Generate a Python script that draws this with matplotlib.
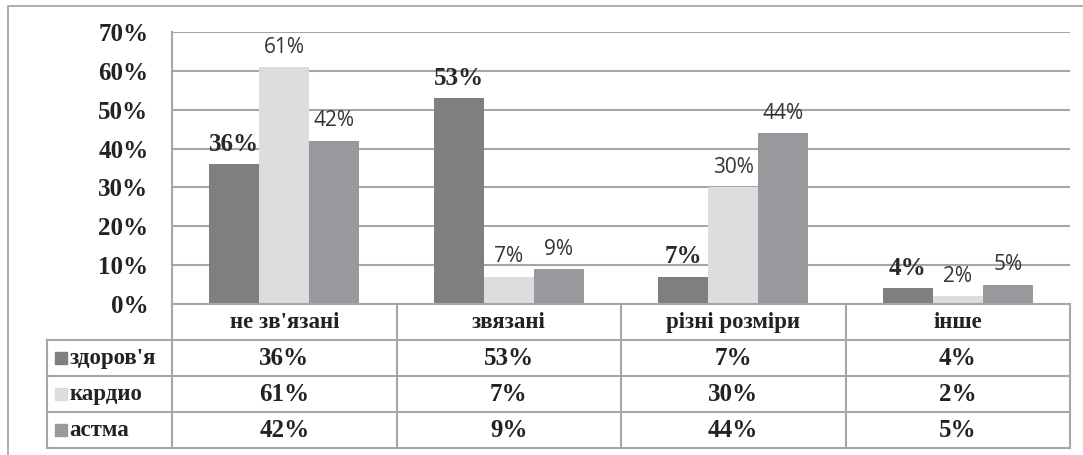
import numpy as np
import matplotlib.pyplot as plt
from matplotlib.patches import Rectangle

categories = ["не зв'язані", "звязані", "різні розміри", "інше"]
series_names = ["здоров'я", "кардио", "астма"]
zdorovya = [36, 53, 7, 4]
kardio = [61, 7, 30, 2]
astma = [42, 9, 44, 5]
yticks = [0, 10, 20, 30, 40, 50, 60, 70]

colors = ["#7f7f82", "#dcdddf", "#98999c"]
grid_c = "#a6a6a6"
serif = "Liberation Serif"
sans = "Open Sans"

W, H = 1083, 455
fig = plt.figure(figsize=(W / 100, H / 100), dpi=100)

def px(x0, y0, x1, y1):
    # pixel box (top-left origin) -> figure fraction rect
    return [x0 / W, 1 - y1 / H, (x1 - x0) / W, (y1 - y0) / H]

# outer frame
fig.patches.append(Rectangle((8 / W, -0.1), 1.2, 1 - 6 / H + 0.1, transform=fig.transFigure,
                             fill=False, edgecolor="#a0a0a0", lw=1.2))

ax = fig.add_axes(px(172, 32, 1070, 304))
x = np.arange(len(categories))
bw = 0.223
all_series = [zdorovya, kardio, astma]
for i, vals in enumerate(all_series):
    pos = x + (i - 1) * bw
    ax.bar(pos, vals, width=bw, color=colors[i], zorder=3)
    for p, v in zip(pos, vals):
        if i == 0:
            ax.text(p, v + 2.2, f"{v}%", ha="center", va="bottom", fontsize=18,
                    fontweight="bold", family=serif, color="#2a2a2a", zorder=4)
        else:
            ax.text(p, v + 2.4, f"{v}%", ha="center", va="bottom", fontsize=15,
                    family=sans, color="#333333", zorder=4)

ax.set_xlim(-0.5, 3.5)
ax.set_ylim(0, 70)
ax.set_yticks(yticks)
ax.set_yticklabels([f"{t}%" for t in yticks], fontsize=18, fontweight="bold",
                   family=serif, color="#222222")
ax.tick_params(axis="y", length=0, pad=17)
ax.set_xticks([])
ax.yaxis.grid(True, color=grid_c, lw=1.5, zorder=0)
for s in ["top", "right", "bottom"]:
    ax.spines[s].set_visible(False)
ax.spines["left"].set_color(grid_c)
ax.spines["left"].set_linewidth(1.5)

# data table below the bars
lab_w = 125 / 224.5
tx = fig.add_axes(px(47, 304, 1070, 448))
tx.set_xlim(-0.5 - lab_w, 3.5)
tx.set_ylim(4, 0)
tx.axis("off")
lk = dict(color=grid_c, lw=1.5, clip_on=False)
tx.plot([-0.5, 3.5], [0, 0], **lk)
for r in range(1, 5):
    tx.plot([-0.5 - lab_w, 3.5], [r, r], **lk)
for c in range(5):
    tx.plot([c - 0.5, c - 0.5], [0, 4], **lk)
tx.plot([-0.5 - lab_w] * 2, [1, 4], **lk)

hfont = dict(fontsize=16.5, fontweight="bold", family=serif, color="#222222")
vfont = dict(fontsize=18, fontweight="bold", family=serif, color="#222222")
for j, cat in enumerate(categories):
    tx.text(j, 0.52, cat, ha="center", va="center", **hfont)
for i, (name, vals) in enumerate(zip(series_names, all_series)):
    r = i + 1.52
    tx.add_patch(Rectangle((-0.5 - lab_w + 0.036, i + 1.33), 0.052, 0.33,
                           color=colors[i], clip_on=False))
    tx.text(-0.5 - lab_w + 0.1, r, name, ha="left", va="center", **hfont)
    for j, v in enumerate(vals):
        tx.text(j, r, f"{v}%", ha="center", va="center", **vfont)

fig.savefig("out.png", dpi=100)
